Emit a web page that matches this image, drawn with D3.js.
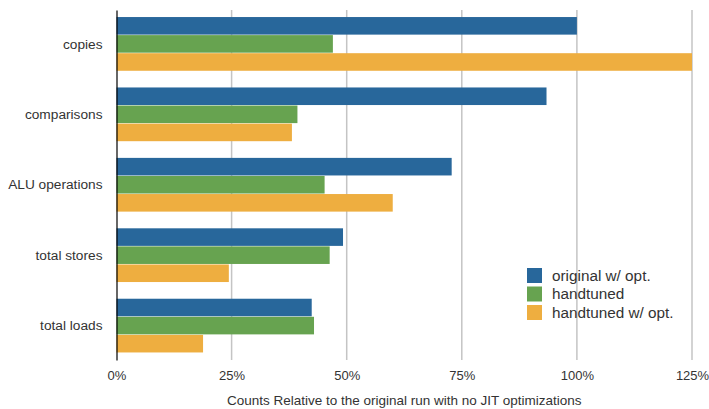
<!DOCTYPE html>
<meta charset="utf-8">
<style>
body { margin: 0; background: #fff; }
svg { font-family: "Liberation Sans", Arial, Helvetica, sans-serif; }
</style>
<body>
<script src="https://d3js.org/d3.v7.min.js"></script>
<script>

// chart data
var categories = ["copies", "comparisons", "ALU operations", "total stores", "total loads"];
var seriesNames = ["original w/ opt.", "handtuned", "handtuned w/ opt."];
var originalOpt  = [1.00, 0.934, 0.728, 0.492, 0.424];
var handtuned    = [0.47, 0.393, 0.452, 0.463, 0.429];
var handtunedOpt = [1.25, 0.381, 0.600, 0.244, 0.188];
var tickValues = [0, 0.25, 0.5, 0.75, 1.0, 1.25];
var colors = ["#28679b", "#67a350", "#eeae40"];

var series = [originalOpt, handtuned, handtunedOpt];

var width = 709, height = 409;
var margin = {top: 10, right: 17, bottom: 49, left: 116.5};

var svg = d3.select("body").append("svg")
    .attr("width", width)
    .attr("height", height);

var x = d3.scaleLinear()
    .domain([0, 1.25])
    .range([margin.left, width - margin.right]);

var y0 = d3.scaleBand()
    .domain(categories)
    .range([margin.top, height - margin.bottom])
    .paddingInner(0.23)
    .paddingOuter(0.1);

var y1 = d3.scaleBand()
    .domain(d3.range(seriesNames.length))
    .range([0, y0.bandwidth()]);

// grid lines
svg.append("g")
  .selectAll("line")
  .data(tickValues.slice(1))
  .enter().append("line")
    .attr("x1", function(d) { return x(d); })
    .attr("x2", function(d) { return x(d); })
    .attr("y1", margin.top)
    .attr("y2", height - margin.bottom)
    .attr("stroke", "#c4c4c4")
    .attr("stroke-width", 1.5);

// bars
var group = svg.append("g")
  .selectAll("g")
  .data(categories)
  .enter().append("g")
    .attr("transform", function(d) { return "translate(0," + y0(d) + ")"; });

group.selectAll("rect")
  .data(function(d, i) { return series.map(function(s, j) { return {k: j, v: s[i]}; }); })
  .enter().append("rect")
    .attr("x", x(0))
    .attr("y", function(d) { return y1(d.k); })
    .attr("width", function(d) { return x(d.v) - x(0); })
    .attr("height", y1.bandwidth() - 0.5)
    .attr("fill", function(d) { return colors[d.k]; });

// x axis
var xAxis = svg.append("g")
    .attr("transform", "translate(0," + (height - margin.bottom) + ")")
    .call(d3.axisBottom(x).tickValues(tickValues).tickFormat(d3.format(".0%")).tickSize(0).tickPadding(11));
xAxis.select(".domain").remove();
xAxis.selectAll("text").attr("font-size", 13).attr("fill", "#333").style("font-family", null);

// y axis
var yAxis = svg.append("g")
    .attr("transform", "translate(" + margin.left + ",0)")
    .call(d3.axisLeft(y0).tickSize(0).tickPadding(14));
yAxis.select(".domain").attr("stroke", "#000").attr("stroke-width", 1.2);
yAxis.selectAll("text").attr("font-size", 13.7).attr("fill", "#333").style("font-family", null);

// axis title
svg.append("text")
    .attr("x", (x(0) + x(1.25)) / 2)
    .attr("y", 405)
    .attr("text-anchor", "middle")
    .attr("font-size", 13.5)
    .attr("fill", "#333")
    .text("Counts Relative to the original run with no JIT optimizations");

// legend
var legend = svg.append("g")
    .attr("transform", "translate(527,268)");

var item = legend.selectAll("g")
  .data(seriesNames)
  .enter().append("g")
    .attr("transform", function(d, i) { return "translate(0," + (i * 18.5) + ")"; });

item.append("rect")
    .attr("width", 15)
    .attr("height", 15)
    .attr("fill", function(d, i) { return colors[i]; });

item.append("text")
    .attr("x", 25)
    .attr("y", 12.8)
    .attr("font-size", 15.3)
    .attr("fill", "#333")
    .text(function(d) { return d; });

</script>
</body>
